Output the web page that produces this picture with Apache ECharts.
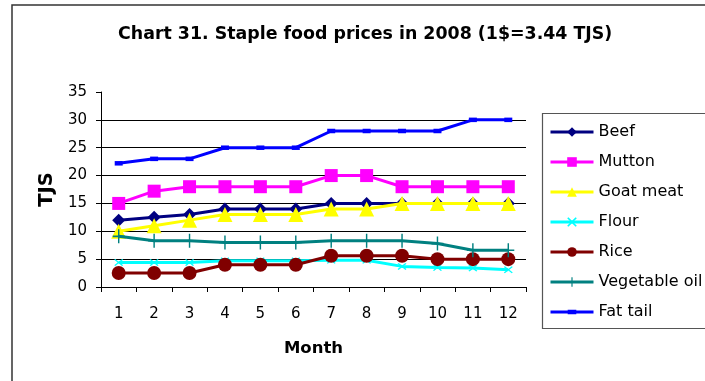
<!DOCTYPE html>
<html>
<head>
<meta charset="utf-8">
<title>Staple food prices in 2008</title>
<script src="https://cdn.jsdelivr.net/npm/echarts@6/dist/echarts.min.js"></script>
<style>
  html, body { margin: 0; padding: 0; background: #fff; }
  #chart { width: 705px; height: 381px; }
</style>
</head>
<body>
<div id="chart"></div>
<script>
// Monthly prices, TJS
const months = ['1', '2', '3', '4', '5', '6', '7', '8', '9', '10', '11', '12'];
const beef        = [12, 12.5, 13, 14, 14, 14, 15, 15, 15, 15, 15, 15];
const mutton      = [15, 17.2, 18, 18, 18, 18, 20, 20, 18, 18, 18, 18];
const goatMeat    = [10, 11, 12, 13, 13, 13, 14, 14, 15, 15, 15, 15];
const flour       = [4.4, 4.4, 4.4, 4.7, 4.7, 4.7, 4.8, 4.8, 3.7, 3.5, 3.4, 3.1];
const rice        = [2.5, 2.5, 2.5, 4, 4, 4, 5.6, 5.6, 5.6, 5, 5, 5];
const vegetableOil = [9.1, 8.3, 8.3, 8, 8, 8, 8.3, 8.3, 8.3, 7.8, 6.6, 6.6];
const fatTail     = [22.2, 23, 23, 25, 25, 25, 28, 28, 28, 28, 30, 30];
const yTicks = [0, 5, 10, 15, 20, 25, 30, 35];

const FONT = 'DejaVu Sans';

// Marker shapes
const crossX = 'path://M0,12L12,0L50,38L88,0L100,12L62,50L100,88L88,100L50,62L12,100L0,88L38,50Z';
const plus = 'path://M44,0H56V44H100V56H56V100H44V56H0V44H44Z';
// Legend sample for the dash-marked series: line plus a short, slightly thicker dash in the middle
const lineWithDash = 'path://M0,46.5H100V53.5H0Z M40,44.5H60V55.5H40Z';

const seriesDefs = [
  { name: 'Beef',          data: beef,         color: '#000080', symbol: 'diamond',  size: 13 },
  { name: 'Mutton',        data: mutton,       color: '#FF00FF', symbol: 'rect',     size: 13 },
  { name: 'Goat meat',     data: goatMeat,     color: '#FFFF00', symbol: 'triangle', size: 15 },
  { name: 'Flour',         data: flour,        color: '#00FFFF', symbol: crossX,     size: [9, 7] },
  { name: 'Rice',          data: rice,         color: '#800000', symbol: 'circle',   size: 14 },
  { name: 'Vegetable oil', data: vegetableOil, color: '#008080', symbol: plus,       size: [12, 14] },
  { name: 'Fat tail',      data: fatTail,      color: '#0000FF', symbol: 'rect',     size: [8, 4.5], legendIcon: lineWithDash }
];

const chart = echarts.init(document.getElementById('chart'), null, { renderer: 'canvas' });

chart.setOption({
  animation: false,
  textStyle: { fontFamily: FONT, color: '#000' },
  title: {
    text: 'Chart 31. Staple food prices in 2008 (1$=3.44 TJS)',
    left: 118,
    top: 26,
    padding: 0,
    textStyle: { fontFamily: FONT, fontSize: 17.4, fontWeight: 'bold', color: '#000' }
  },
  graphic: [
    {
      type: 'rect', z: 0, silent: true,
      shape: { x: 12, y: 5, width: 800, height: 500 },
      style: { fill: 'none', stroke: '#333', lineWidth: 1.5 }
    },
    {
      type: 'rect', z: 1, silent: true,
      shape: { x: 542.5, y: 113.5, width: 300, height: 215 },
      style: { fill: '#fff', stroke: '#555', lineWidth: 1.2 }
    }
  ],
  legend: {
    orient: 'vertical',
    left: 549,
    top: 124,
    padding: 0,
    itemWidth: 43,
    itemHeight: 12,
    itemGap: 14,
    z: 5,
    lineStyle: { width: 3 },
    textStyle: { fontFamily: FONT, fontSize: 16, lineHeight: 16, color: '#000' },
    data: seriesDefs.map(s => s.legendIcon ? { name: s.name, icon: s.legendIcon } : s.name)
  },
  grid: { left: 101, right: 179, top: 92, bottom: 94, containLabel: false },
  xAxis: {
    type: 'category',
    data: months,
    boundaryGap: true,
    name: 'Month',
    nameLocation: 'middle',
    nameGap: 53,
    nameTextStyle: { fontFamily: FONT, fontSize: 16.5, fontWeight: 'bold', color: '#000' },
    axisLine: { lineStyle: { color: '#000', width: 1 } },
    axisTick: { show: true, length: 5, inside: false, lineStyle: { color: '#000' } },
    axisLabel: { fontFamily: FONT, fontSize: 15, color: '#000', margin: 20 },
    splitLine: { show: false }
  },
  yAxis: {
    type: 'value',
    min: yTicks[0],
    max: yTicks[yTicks.length - 1],
    interval: yTicks[1] - yTicks[0],
    name: 'TJS',
    nameLocation: 'middle',
    nameGap: 44,
    nameTextStyle: { fontFamily: FONT, fontSize: 19.5, fontWeight: 'bold', color: '#000' },
    axisLine: { show: true, lineStyle: { color: '#000', width: 1 } },
    axisTick: { show: true, length: 5, inside: false, lineStyle: { color: '#000' } },
    axisLabel: { fontFamily: FONT, fontSize: 15, color: '#000', margin: 14 },
    splitLine: { show: true, showMaxLine: false, lineStyle: { color: '#000', width: 1 } }
  },
  series: seriesDefs.map((s, i) => ({
    name: s.name,
    type: 'line',
    data: s.data,
    z: 2 + i,
    symbol: s.symbol,
    symbolSize: s.size,
    showSymbol: true,
    showAllSymbol: true,
    lineStyle: { color: s.color, width: 3 },
    itemStyle: { color: s.color, borderWidth: 0 },
    emphasis: { disabled: true }
  }))
});
</script>
</body>
</html>
